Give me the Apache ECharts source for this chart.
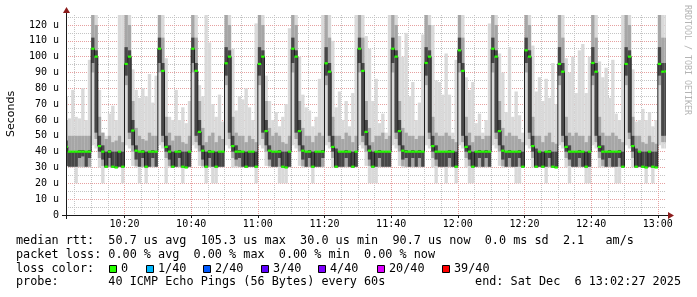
<!DOCTYPE html>
<html><head><meta charset="utf-8">
<script src="https://cdn.jsdelivr.net/npm/echarts@6/dist/echarts.min.js"></script>
<style>html,body{margin:0;padding:0;background:#fff;}#c{width:697px;height:297px;}</style>
</head><body><div id="c"></div>
<script>
// minutes since midnight; column i covers [startMinute+i, startMinute+i+1]
const startMinute = 602;
const viewStart = 602.45, viewEnd = 782.45; // 10:02:27 .. 13:02:27

const median = [
 43,40,40,40,40,40,40,40,
 105,100,43.5,40,30.5,40,30.5,30,40,30.5,
 95.4,100,53.3,40.6,40,40,30.5,40,40,40,
 105,91,43,40,30.5,40,40,30.5,30,40,
 105,91,52.5,40.6,30.5,40,40,30.5,40,40,
 95.8,100,43.5,40,40,40,30.5,40,40,30.5,
 95.4,100,53,40.6,40,40,40,30.5,30,40,
 105,100,53,40.6,40,40,30.5,40,40,40,
 95.8,90.5,43,30.5,40,40,40,40,30.5,40,
 105,91,52.5,40.6,30.5,40,40,40,40,40,
 105,100,53,40.6,40,40,40,40,40,40,
 96,100,43.5,40,40,40,40,40,40,30.5,
 104,91,43,40,30.5,40,40,40,40,40,
 105,100,53,40.6,40,40,40,40,40,30.5,
 104,100,43.5,30.5,40,30.5,40,40,30.5,30,
 95.4,90.5,43,40,40,40,40,40,30.5,40,
 96,90.5,43,40,40,40,40,40,40,30.5,
 95.4,100,43.5,30.5,40,30.5,30,40,30.5,30,
 95.4,90.5,90.7
];
const outerLo = [
 31,30,30,20,30,30,30,30,
 44,42,30,20,30,30,30,30,30,20,
 44,42,31,30,20,30,20,30,30,30,
 44,42,20,30,30,30,30,20,30,30,
 44,42,31,30,20,30,20,20,30,30,
 44,42,30,30,30,30,30,30,30,20,
 44,42,31,30,30,30,20,20,20,30,
 44,42,31,30,30,30,20,30,30,30,
 44,42,30,30,30,30,30,30,30,30,
 44,42,31,20,20,20,30,30,30,30,
 44,42,31,30,30,30,30,30,30,30,
 44,42,30,20,30,30,20,30,30,20,
 44,42,30,20,20,30,30,30,30,30,
 44,42,31,30,30,30,30,20,20,30,
 44,42,30,30,30,30,20,30,30,30,
 44,42,30,20,30,30,30,30,20,20,
 44,42,30,30,30,30,30,20,20,30,
 44,42,30,30,30,30,20,30,20,30,
 44,42,42
];
const outerHi = [
 75,61,79,62,61,80,60,98,
 126.3,126.3,79,52,50,64,69,60,126.3,126.3,
 126.3,126.3,92,79,74,80,75,89,71,88,
 126.3,126.3,99,62,60,79,60,68,58,72,
 126.3,126.3,82,75,126.3,109,70,62,76,59,
 126.3,126.3,105,66,75,73,80,68,60,121,
 126.3,126.3,88,72,60,65,56,62,70,118,
 126.3,126.3,100,76,68,66,56,62,86,126.3,
 126.3,126.3,110,68,78,60,72,56,77,126.3,
 126.3,126.3,113,105,72,86,58,64,52,126.3,
 126.3,126.3,113,100,115,75,84,60,71,114,
 126.3,126.3,120,85,84,76,102,76,52,98,
 126.3,126.3,87,79,84,58,64,52,60,121,
 126.3,126.3,102,90,65,106,62,78,63,52,
 126.3,126.3,107,78,87,72,86,74,96,70,
 126.3,126.3,99,90,100,77,104,108,77,100,
 126.3,126.3,97,87,93,74,98,64,60,126.3,
 126.3,126.3,92,59,60,67,60,65,56,60,
 126.3,126.3,126.3
];
const midLo = [
 33,30.5,30.5,30.5,30.5,30.5,30.5,30.5,
 90,48,36,31,30,30.5,30,30,30.5,30,
 82,48,40,31,30.5,30.5,30,30.5,30.5,30.5,
 90,46,36,31,30,30.5,30.5,30,30,30.5,
 90,46,40,31,30,30.5,30.5,30,30.5,30.5,
 82,48,36,31,30.5,30.5,30,30.5,30.5,30,
 82,48,40,31,30.5,30.5,30.5,30,30,30.5,
 90,48,40,31,30.5,30.5,30,30.5,30.5,30.5,
 82,46,36,30,30.5,30.5,30.5,30.5,30,30.5,
 90,46,40,31,30,30.5,30.5,30.5,30.5,30.5,
 90,48,40,31,30.5,30.5,30.5,30.5,30.5,30.5,
 82,48,36,31,30.5,30.5,30.5,30.5,30.5,30,
 90,46,36,31,30,30.5,30.5,30.5,30.5,30.5,
 90,48,40,31,30.5,30.5,30.5,30.5,30.5,30,
 90,48,36,30,30.5,30,30.5,30.5,30,30,
 82,46,36,31,30.5,30.5,30.5,30.5,30,30.5,
 82,46,36,31,30.5,30.5,30.5,30.5,30.5,30,
 82,48,36,30,30.5,30,30,30.5,30,30,
 82,46,46
];
const midHi = [
 60,50,50,50,50,50,50,50,
 126.3,120,62,52,48,50,46,47,50,46,
 126.3,120,72,55,50,48,47,52,50,50,
 126.3,112,62,52,47,50,50,46,45,50,
 126.3,112,72,55,46,50,52,46,50,48,
 126.3,120,62,52,50,50,46,50,48,46,
 126.3,120,72,55,50,52,50,46,45,50,
 126.3,120,72,55,50,50,46,50,52,50,
 126.3,112,62,50,50,48,52,50,46,50,
 126.3,112,72,55,46,50,50,52,48,50,
 126.3,120,72,55,52,50,50,48,50,50,
 126.3,120,62,52,50,50,52,50,48,46,
 126.3,112,62,52,46,50,50,48,50,50,
 126.3,120,72,55,50,52,50,50,48,46,
 126.3,120,62,50,50,46,50,52,46,45,
 126.3,112,62,52,50,52,50,50,46,50,
 126.3,112,62,52,50,50,52,50,48,46,
 126.3,120,62,50,50,46,45,50,46,45,
 126.3,112,112
];
const innerLo = [
 31,30.5,30.5,30.5,36,37,30.5,36,
 96,52,40,35,30,36,30,30,30.5,30,
 88,52,44,35,30.5,36,30,30.5,36,30.5,
 96,50,40,35,30,30.5,36,30,30,30.5,
 96,50,44,35,30,36,30.5,30,30.5,30.5,
 88,52,40,35,36,30.5,30,30.5,30.5,30,
 88,52,44,35,30.5,30.5,36,30,30,30.5,
 96,52,44,35,30.5,36,30,30.5,30.5,36,
 88,50,40,30,30.5,30.5,36,30.5,30,30.5,
 96,50,44,35,30,30.5,36,30.5,30.5,30.5,
 96,52,44,35,36,30.5,36,30.5,36,30.5,
 88,52,40,35,30.5,30.5,30.5,36,30.5,30,
 96,50,40,35,30,30.5,36,30.5,36,30.5,
 96,52,44,35,30.5,36,30.5,30.5,36,30,
 96,52,40,30,30.5,30,30.5,36,30,30,
 88,50,40,35,30.5,30.5,36,30.5,30,30.5,
 88,50,40,35,30.5,36,30.5,30.5,36,30,
 88,52,40,30,30.5,30,30,30.5,30,30,
 88,50,50
];
const innerHi = [
 47,40,40,40,41,41,40,41,
 112,104,50,44,40,41,40,40,40,40,
 106,104,60,44,40,41,40,40,41,40,
 112,96,50,44,40,40,41,40,40,40,
 112,96,60,44,40,41,40,40,40,40,
 106,104,50,44,41,40,40,40,40,40,
 106,104,60,44,40,40,41,40,40,40,
 112,104,60,44,40,41,40,40,40,41,
 106,96,50,42,40,40,41,40,40,40,
 112,96,60,44,40,40,41,40,40,40,
 112,104,60,44,41,40,41,40,41,40,
 106,104,50,44,40,40,40,41,40,40,
 112,96,50,44,40,40,41,40,41,40,
 112,104,60,44,40,41,40,40,41,40,
 112,104,50,42,40,40,40,41,40,40,
 106,96,50,44,40,40,41,40,40,40,
 106,96,50,44,40,41,40,40,41,40,
 106,104,50,42,40,40,40,40,40,40,
 106,96,96
];

const xMajorTicks = [620,640,660,680,700,720,740,760,780];
const xTickLabels = ['10:20','10:40','11:00','11:20','11:40','12:00','12:20','12:40','13:00'];
const xMinorTicks = [605,610,615,620,625,630,635,640,645,650,655,660,665,670,675,680,685,690,695,700,705,710,715,720,725,730,735,740,745,750,755,760,765,770,775,780];
const yTicks = [0,10,20,30,40,50,60,70,80,90,100,110,120];
const yTickLabels = ['0','10 u','20 u','30 u','40 u','50 u','60 u','70 u','80 u','90 u','100 u','110 u','120 u'];
const yMinorTicks = [5,15,25,35,45,55,65,75,85,95,105,115,125];
const yMax = 126.3;

const lossLabels = ['0','1/40','2/40','3/40','4/40','20/40','39/40'];
const lossColors = ['#26ff00','#00b8ff','#0059ff','#5e00ff','#7e00ff','#dd00ff','#ff0000'];

const chart = echarts.init(document.getElementById('c'), null, {renderer:'canvas'});
const MONO = 'DejaVu Sans Mono';

function band(lo, hi, color) {
  return {
    type: 'custom', clip: true, z: 2, silent: true,
    encode: {x: 0, y: [1, 2]},
    data: lo.map((v, i) => [startMinute + i, v, hi[i]]),
    renderItem(params, api) {
      const a = api.coord([api.value(0), api.value(1)]);
      const b = api.coord([api.value(0) + 1, api.value(2)]);
      return {type: 'rect', shape: {x: a[0], y: b[1], width: b[0] - a[0], height: a[1] - b[1]}, style: {fill: color}};
    }
  };
}

const medLineData = median.map((v, i) => [startMinute + i, v, i > 0 ? median[i - 1] : v]);
const series = [
  band(outerLo, outerHi, '#d9d9d9'),
  band(midLo, midHi, '#a6a6a6'),
  band(innerLo, innerHi, '#474747'),
  {
    type: 'custom', clip: true, z: 3, silent: true,
    encode: {x: 0, y: 1},
    data: medLineData,
    renderItem(params, api) {
      const p0 = api.coord([api.value(0), api.value(2)]);
      const p1 = api.coord([api.value(0), api.value(1)]);
      const p2 = api.coord([api.value(0) + 1, api.value(1)]);
      return {type: 'polyline', shape: {points: [p0, p1, p2]}, style: {stroke: '#202020', lineWidth: 1, fill: null}};
    }
  },
  {
    type: 'custom', clip: true, z: 4, silent: true,
    encode: {x: 0, y: 1},
    data: median.map((v, i) => [startMinute + i, v]),
    renderItem(params, api) {
      const a = api.coord([api.value(0), api.value(1) - 0.7]);
      const b = api.coord([api.value(0) + 1, api.value(1) + 0.7]);
      return {type: 'rect', shape: {x: a[0], y: b[1], width: b[0] - a[0], height: a[1] - b[1]}, style: {fill: lossColors[0]}};
    }
  }
];

const legendRows = [
  {t: 'median rtt:  50.7 us avg  105.3 us max  30.0 us min  90.7 us now  0.0 ms sd  2.1   am/s', y: 241},
  {t: 'packet loss: 0.00 % avg  0.00 % max  0.00 % min  0.00 % now', y: 255},
  {t: 'loss color:', y: 268.5},
  {t: 'probe:       40 ICMP Echo Pings (56 Bytes) every 60s', y: 282}
];
const sqX = [109,146,203,261,318,377,442];
const graphics = [];
legendRows.forEach(r => graphics.push({type: 'text', x: 16, y: r.y, z: 100,
  style: {text: r.t, font: '11.8px "DejaVu Sans Mono"', fill: '#000', textVerticalAlign: 'middle', textAlign: 'left'}}));
graphics.push({type: 'text', x: 681, y: 282, z: 100,
  style: {text: 'end: Sat Dec  6 13:02:27 2025', font: '11.8px "DejaVu Sans Mono"', fill: '#000', textVerticalAlign: 'middle', textAlign: 'right'}});
lossLabels.forEach((l, i) => {
  graphics.push({type: 'rect', z: 100, shape: {x: sqX[i] + 0.5, y: 265.5, width: 7, height: 7}, style: {fill: lossColors[i], stroke: '#000', lineWidth: 1}});
  graphics.push({type: 'text', x: sqX[i] + 12, y: 268.5, z: 100,
    style: {text: l, font: '11.8px "DejaVu Sans Mono"', fill: '#000', textVerticalAlign: 'middle', textAlign: 'left'}});
});
graphics.push({type: 'text', x: 11, y: 114, rotation: Math.PI / 2, z: 100,
  style: {text: 'Seconds', font: '11px "DejaVu Sans"', fill: '#000', textAlign: 'center', textVerticalAlign: 'middle'}});
graphics.push({type: 'text', x: 687.5, y: 60, rotation: -Math.PI / 2, z: 100,
  style: {text: 'RRDTOOL / TOBI OETIKER', font: '8.3px "DejaVu Sans Mono"', fill: '#b4b4b4', textAlign: 'center', textVerticalAlign: 'middle'}});
// axis lines and arrows
graphics.push({type: 'line', z: 100, shape: {x1: 62, y1: 215.5, x2: 668, y2: 215.5}, style: {stroke: '#1a1a1a', lineWidth: 1}});
graphics.push({type: 'line', z: 100, shape: {x1: 66.5, y1: 12, x2: 66.5, y2: 219}, style: {stroke: '#1a1a1a', lineWidth: 1}});
graphics.push({type: 'polygon', z: 101, shape: {points: [[66.5, 7], [63, 13], [70, 13]]}, style: {fill: '#8c1c1c'}});
graphics.push({type: 'polygon', z: 101, shape: {points: [[674, 215.5], [668, 212], [668, 219]]}, style: {fill: '#8c1c1c'}});

const option = {
  animation: false,
  backgroundColor: '#ffffff',
  grid: {left: 66, top: 15, width: 600, height: 200, containLabel: false},
  xAxis: [
    {type: 'value', min: viewStart, max: viewEnd, z: 1,
      axisLine: {show: false},
      axisTick: {show: true, customValues: xMajorTicks, length: 3, lineStyle: {color: '#1a1a1a'}},
      axisLabel: {customValues: xMajorTicks, formatter: v => xTickLabels[xMajorTicks.indexOf(v)], fontFamily: MONO, fontSize: 10, color: '#000', margin: 4},
      splitLine: {show: true, lineStyle: {color: '#e6a0a0', type: [1, 1], width: 1}}},
    {type: 'value', min: viewStart, max: viewEnd, position: 'top', z: 0,
      axisLine: {show: false}, axisTick: {show: false, customValues: xMinorTicks}, axisLabel: {show: false},
      splitLine: {show: true, lineStyle: {color: '#c4c4c4', type: [1, 1], width: 1}}}
  ],
  yAxis: [
    {type: 'value', min: 0, max: yMax, z: 1,
      axisLine: {show: false},
      axisTick: {show: false, customValues: yTicks},
      axisLabel: {customValues: yTicks, formatter: v => yTickLabels[yTicks.indexOf(v)], fontFamily: MONO, fontSize: 10, color: '#000', margin: 7},
      splitLine: {show: true, lineStyle: {color: '#e6a0a0', type: [1, 1], width: 1}}},
    {type: 'value', min: 0, max: yMax, position: 'right', z: 0,
      axisLine: {show: false}, axisTick: {show: false, customValues: yMinorTicks}, axisLabel: {show: false},
      splitLine: {show: true, lineStyle: {color: '#c4c4c4', type: [1, 1], width: 1}}}
  ],
  series: series,
  graphic: graphics
};
chart.setOption(option);
</script></body></html>
